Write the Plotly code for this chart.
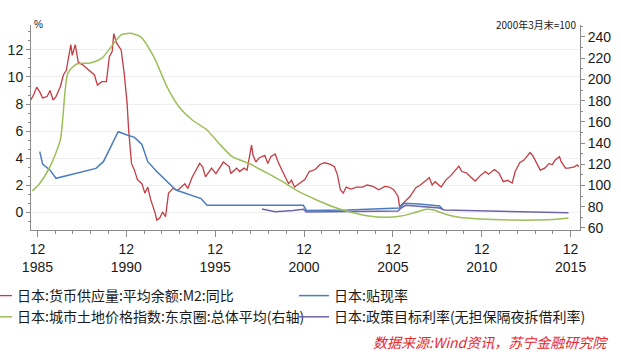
import plotly.graph_objects as go

# ---------------- data ----------------
m2_dates = ["1985-08", "1985-10", "1985-12", "1986-02", "1986-04", "1986-07", "1986-09", "1986-11",
            "1987-01", "1987-04", "1987-06", "1987-08", "1987-11", "1987-12", "1988-02", "1988-04",
            "1988-07", "1988-11", "1989-01", "1989-03", "1989-05", "1989-08", "1989-11", "1990-01",
            "1990-03", "1990-04", "1990-06", "1990-09", "1990-11", "1991-01", "1991-02", "1991-04",
            "1991-06", "1991-08", "1991-11", "1992-01", "1992-03", "1992-05", "1992-08", "1992-09",
            "1992-11", "1993-01", "1993-03", "1993-05", "1993-08", "1993-11", "1994-04", "1994-06",
            "1994-09", "1995-02", "1995-04", "1995-06", "1995-10", "1996-01", "1996-06", "1996-10",
            "1996-11", "1997-03", "1997-05", "1997-08", "1997-10", "1998-01", "1998-02", "1998-04",
            "1998-06", "1998-10", "1998-12", "1999-02", "1999-05", "1999-07", "1999-10", "1999-12",
            "2000-02", "2000-04", "2000-06", "2000-09", "2001-01", "2001-04", "2001-08", "2001-11",
            "2002-02", "2002-06", "2002-09", "2002-11", "2003-01", "2003-03", "2003-05", "2003-08",
            "2003-12", "2004-04", "2004-07", "2004-11", "2005-03", "2005-07", "2005-10", "2006-01",
            "2006-04", "2006-05", "2006-08", "2006-12", "2007-04", "2007-07", "2007-11", "2008-01",
            "2008-03", "2008-05", "2008-09", "2008-12", "2009-04", "2009-07", "2009-09", "2009-11",
            "2010-02", "2010-05", "2010-08", "2010-12", "2011-03", "2011-05", "2011-09", "2011-12",
            "2012-03", "2012-06", "2012-09", "2012-11", "2013-02", "2013-05", "2013-07", "2013-09",
            "2013-11", "2014-01", "2014-04", "2014-07", "2014-10", "2014-12", "2015-02", "2015-05",
            "2015-06", "2015-09", "2015-11", "2016-03", "2016-05", "2016-06"]
m2_yoy = [8.3, 8.7, 9.25, 8.9, 8.45, 8.55, 9.0, 8.3,
          8.55, 9.3, 10.15, 10.5, 12.4, 11.6, 12.4, 11.1,
          10.9, 10.5, 10.3, 10.15, 9.4, 9.65, 9.65, 11.5,
          11.9, 13.2, 12.5, 12.0, 10.3, 8.05, 6.1, 3.6,
          3.1, 2.4, 2.1, 1.4, 1.85, 0.9, -0.1, -0.6,
          -0.45, 0.0, -0.35, 1.4, 1.75, 1.6, 2.1, 1.75,
          2.6, 3.6, 3.35, 2.6, 3.25, 2.85, 3.7, 3.35,
          2.85, 3.25, 3.0, 3.25, 3.1, 4.95, 4.2, 3.7,
          4.0, 4.2, 3.6, 4.1, 4.3, 3.7, 3.0, 2.5,
          2.1, 2.35, 1.85, 2.1, 2.4, 3.0, 3.15, 3.5,
          3.65, 3.55, 3.35, 2.75, 1.65, 1.4, 1.85, 1.7,
          1.85, 1.85, 2.0, 1.9, 1.65, 1.9, 1.85, 1.65,
          1.15, 0.4, 0.75, 1.15, 1.8, 2.0, 2.35, 2.55,
          2.0, 2.25, 1.85, 2.35, 2.75, 3.1, 3.4, 3.0,
          2.9, 2.6, 2.3, 2.75, 3.0, 2.8, 3.15, 2.9,
          2.25, 2.35, 2.15, 3.0, 3.65, 3.85, 4.15, 4.4,
          4.15, 3.75, 3.1, 3.25, 3.6, 3.5, 3.85, 4.1,
          3.75, 3.25, 3.25, 3.35, 3.5, 3.35]

disc_dates = ["1986-02", "1986-04", "1986-09", "1987-01", "1989-04", "1989-09", "1990-02", "1990-07",
              "1991-01", "1991-06", "1991-11", "1992-03", "1992-09", "1993-04", "1993-10", "1995-03",
              "1995-07", "2000-12", "2001-02", "2003-06", "2006-05", "2006-08", "2007-06", "2008-08",
              "2008-10"]
disc_rate = [4.47, 3.55, 3.1, 2.5, 3.23, 3.73, 4.84, 5.95,
             5.7, 5.53, 5.0, 3.73, 3.0, 2.25, 1.63, 1.0,
             0.5, 0.5, 0.12, 0.15, 0.3, 0.65, 0.6, 0.45,
             0.2]

land_dates = ["1985-09", "1986-02", "1986-09", "1987-04", "1987-09", "1988-03", "1988-12", "1989-08",
              "1990-04", "1990-09", "1991-03", "1991-10", "1992-07", "1993-04", "1993-12", "1994-09",
              "1995-07", "1996-03", "1996-12", "1997-11", "1998-11", "1999-10", "2000-09", "2001-09",
              "2002-08", "2003-05", "2004-07", "2005-08", "2006-05", "2007-02", "2007-11", "2008-04",
              "2008-12", "2009-09", "2010-11", "2012-09", "2014-01", "2015-03", "2015-11"]
land_index = [95, 102, 118, 143, 206, 214.5, 215.5, 220,
              234, 242, 243.5, 240.3, 221.5, 193, 174.3, 161.8,
              152.4, 139.8, 127.2, 121, 112.1, 103.6, 94.2, 86.4,
              80, 76, 71.6, 70.1, 71, 74, 77.6, 77,
              72.9, 70.1, 68.5, 67.5, 67.5, 68.2, 69.4]

policy_dates = ["1998-08", "1999-05", "2000-05", "2000-12", "2001-02", "2003-06", "2006-04", "2006-06",
                "2006-09", "2008-08", "2008-11", "2012-01", "2015-11"]
policy_rate = [0.22, 0.03, 0.12, 0.2, 0.0, 0.05, 0.08, 0.3,
               0.5, 0.3, 0.15, 0.05, -0.05]

x_tick_vals = ["1985-12-15", "1990-12-15", "1995-12-15", "2000-12-15", "2005-12-15", "2010-12-15", "2015-12-15"]
x_tick_text = ["12<br>1985", "12<br>1990", "12<br>1995", "12<br>2000", "12<br>2005", "12<br>2010", "12<br>2015"]

names = ["日本:货币供应量:平均余额:M2:同比", "日本:贴现率",
         "日本:城市土地价格指数:东京圈:总体平均(右轴)", "日本:政策目标利率(无担保隔夜拆借利率)"]

# ---------------- styling ----------------
W, H = 621, 356
L, R, T, B = 31, 41, 25, 126
PW = W - L - R
PH = H - T - B
RED, BLUE, GREEN, PURPLE = "#C43C44", "#4A7DBE", "#9DBE58", "#6E64AA"
AXIS = "#8A8A8A"
NUM_FONT = dict(family="Liberation Sans, Arial, sans-serif", size=14, color="#1a1a1a")
CJK = "Noto Sans CJK SC, sans-serif"


def px_x(p):
    return (p - L) / PW


def px_y(p):
    return (H - B - p) / PH


fig = go.Figure()
fig.add_trace(go.Scatter(x=m2_dates, y=m2_yoy, mode="lines", name=names[0],
                         line=dict(color=RED, width=1.3), legend="legend"))
fig.add_trace(go.Scatter(x=disc_dates, y=disc_rate, mode="lines", name=names[1],
                         line=dict(color=BLUE, width=1.5), legend="legend2"))
fig.add_trace(go.Scatter(x=land_dates, y=land_index, mode="lines", name=names[2],
                         line=dict(color=GREEN, width=1.5, shape="spline", smoothing=0.6),
                         yaxis="y2", legend="legend"))
fig.add_trace(go.Scatter(x=policy_dates, y=policy_rate, mode="lines", name=names[3],
                         line=dict(color=PURPLE, width=1.5), legend="legend2"))

legend_common = dict(orientation="v", xanchor="left", yanchor="top",
                     font=dict(family=CJK, size=14, color="#1a1a1a"),
                     bgcolor="rgba(0,0,0,0)", borderwidth=0, tracegroupgap=0,
                     itemclick=False, itemdoubleclick=False)

fig.update_layout(
    width=W, height=H,
    margin=dict(l=L, r=R, t=T, b=B, autoexpand=False),
    paper_bgcolor="white", plot_bgcolor="white",
    showlegend=True,
    legend=dict(x=px_x(-23), y=px_y(280), **legend_common),
    legend2=dict(x=px_x(294), y=px_y(280), **legend_common),
    xaxis=dict(
        type="date", range=["1985-08-05", "2016-06-25"],
        tickmode="array", tickvals=x_tick_vals, ticktext=x_tick_text,
        ticks="outside", ticklen=6, tickcolor=AXIS, tickwidth=1,
        showline=True, linecolor=AXIS, linewidth=1, showgrid=False, zeroline=False,
        tickfont=NUM_FONT,
        minor=dict(ticks="outside", ticklen=3, tickcolor=AXIS, dtick="M12",
                   tick0="1985-12-15", showgrid=False),
    ),
    yaxis=dict(
        range=[-1.33, 13.85], tickmode="linear", tick0=0, dtick=2,
        ticks="outside", ticklen=4, tickcolor=AXIS,
        showline=True, linecolor=AXIS, linewidth=1,
        showgrid=True, gridcolor="#EFEFEF", gridwidth=1, zeroline=False,
        tickfont=NUM_FONT,
        minor=dict(ticks="outside", ticklen=2, tickcolor=AXIS, dtick=2 / 3, tick0=0, showgrid=False),
    ),
    yaxis2=dict(
        range=[58.1, 251.3], overlaying="y", side="right", tickmode="linear", tick0=0, dtick=20,
        ticks="outside", ticklen=4, tickcolor=AXIS,
        showline=True, linecolor=AXIS, linewidth=1, showgrid=False, zeroline=False,
        tickfont=NUM_FONT,
        minor=dict(ticks="outside", ticklen=2, tickcolor=AXIS, dtick=10, showgrid=False),
    ),
    annotations=[
        dict(text="%", xref="paper", yref="paper", x=px_x(32), y=px_y(24.5),
             xanchor="left", yanchor="middle", showarrow=False,
             font=dict(family="Liberation Sans, Arial, sans-serif", size=10, color="#1a1a1a")),
        dict(text="2000年3月末=100", xref="paper", yref="paper", x=px_x(578), y=px_y(24.5),
             xanchor="right", yanchor="middle", showarrow=False,
             font=dict(family=CJK, size=10, color="#1a1a1a")),
        dict(text="数据来源:Wind资讯，苏宁金融研究院", xref="paper", yref="paper",
             x=px_x(610), y=px_y(342), xanchor="right", yanchor="middle", showarrow=False,
             font=dict(family=CJK, size=14, color="#E8272C", style="italic")),
    ],
)

fig.write_html("out.html",
               config={"displayModeBar": False, "staticPlot": True},
               post_script="document.body.style.margin='0px';document.body.style.overflow='hidden';")
